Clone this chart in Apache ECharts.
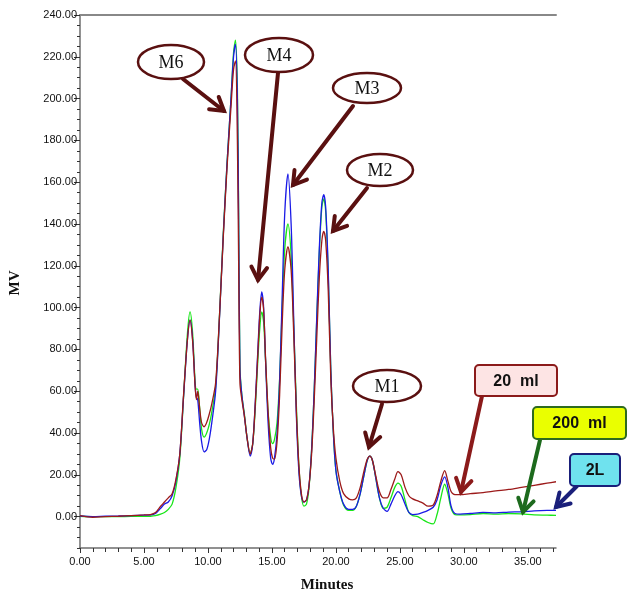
<!DOCTYPE html>
<html>
<head>
<meta charset="utf-8">
<script src="https://cdn.jsdelivr.net/npm/echarts@6/dist/echarts.min.js"></script>
<style>
html,body{margin:0;padding:0;background:#fff;}
#c{width:627px;height:593px;}
</style>
</head>
<body>
<div id="c"></div>
<script>
// ---- data (minutes, MV) ----
const times = [0,1,2,3,4,5,5.5,5.9,6.3,6.6,6.9,7.2,7.5,7.8,8.1,8.4,8.6,8.8,9.0,9.1,9.2,9.35,9.5,9.7,9.9,10.1,10.3,10.6,10.9,11.2,11.5,11.8,12.0,12.15,12.3,12.4,12.5,12.65,12.85,13.05,13.3,13.5,13.7,13.9,14.05,14.2,14.35,14.5,14.7,14.9,15.05,15.2,15.4,15.6,15.8,16.0,16.25,16.5,16.7,16.9,17.1,17.3,17.5,17.7,17.9,18.1,18.3,18.5,18.7,18.9,19.05,19.2,19.4,19.6,19.8,20.0,20.3,20.6,21.0,21.3,21.6,21.9,22.2,22.45,22.65,22.85,23.1,23.4,23.7,24.0,24.3,24.6,24.85,25.1,25.4,25.7,26.0,26.4,26.8,27.2,27.6,27.9,28.2,28.5,28.75,29.0,29.3,29.7,30.5,31.5,32.5,33.5,34.5,35.5,36.5,37.2];
const mv2L = [0.3,0,0.2,0.3,0.5,0.7,0.8,1.5,4,6,7,10,17,30,58,85,94,85,62,57,56,45,36,31,32,37,45,60,95,135,170,200,220,226,200,140,70,58,48,38,29,35,55,80,98,107.5,100,75,45,28,25,28,40,65,105,145,164,140,95,50,22,10,7,8,15,32,60,95,128,150,154,148,118,70,40,22,12,6,3.5,3.5,5,11,20,27,29,27,19,9,4,2.5,6,10,12,10.5,6,2,1,1.2,2,3,4.5,8,15,19,14,5,1.5,1.2,1.5,2,1.8,2.2,2.3,2.8,3,3];
const mv200ml = [0.2,0,0,0,0.1,0.1,0.2,0.5,1.2,2,3.5,6,14,28,58,88,98,88,64,61,61,52,42,38,40,44,50,62,96,136,170,200,222,228,205,145,72,58,49,38,30,35,52,75,90,98,93,75,50,38,35,37,45,66,100,128,140,125,92,55,25,10,5,6,14,32,60,94,126,148,152,146,116,70,40,22,12,5.5,3,3,5,11,20,27,29,27,19,9,4,4.5,9,14,16,14.5,8,2,0.5,0,-1.5,-2.8,-3.5,1,9,15.5,11,4,1,0.8,1,1.5,1.2,1.5,1.3,0.8,0.7,0.6];
const mv20ml = [0.5,-0.3,0,0.2,0.5,0.8,1,2,5,7,9,11,18,30,59,85,94,84,62,56,60,52,45,43,45,49,54,64,96,134,168,196,214,218,180,120,64,56,48,38,30,35,54,78,96,105,99,76,50,33,28,27.5,36,58,92,118,129,118,88,52,25,11,7,8,15,30,55,85,114,132,136.5,132,108,66,42,28,17,11,8.5,8,9,14,22,27.5,29,27,20,12,9,9,13,18,21.5,20,14,10,8.5,7.5,6.5,5,5.5,10,17,22,17,12,10.5,10.5,11,11.5,12.3,13,14,15,16,16.7];
const xTickValues = [0,5,10,15,20,25,30,35];
const yTickValues = [0,20,40,60,80,100,120,140,160,180,200,220,240];

function pairs(vals){ return times.map((t,i)=>[t, vals[i]]); }
const xMinor = []; for (let v=1; v<=37; v++) if (v%5) xMinor.push(v);
const yMinor = []; for (let v=-15; v<=240; v+=5) if (v%20) yMinor.push(v);

const chart = echarts.init(document.getElementById('c'), null, {renderer:'canvas'});
const axisGray = '#6e6e6e';
const lblFont = {fontFamily:'Liberation Sans', fontSize:11, color:'#111'};

// annotation helpers (pixel layout)
function arrow(x1,y1,x2,y2,color){
  const a = Math.atan2(y2-y1, x2-x1), L = 15, s = 0.55;
  return [
    {type:'line', shape:{x1,y1,x2,y2}, style:{stroke:color, lineWidth:4, lineCap:'round'}, z:20},
    {type:'polyline', shape:{points:[[x2-L*Math.cos(a-s), y2-L*Math.sin(a-s)],[x2,y2],[x2-L*Math.cos(a+s), y2-L*Math.sin(a+s)]]},
     style:{stroke:color, lineWidth:4, fill:null, lineJoin:'miter', lineCap:'round'}, z:20}
  ];
}
function bubble(cx,cy,rx,ry,text){
  return [
    {type:'ellipse', shape:{cx,cy,rx,ry}, style:{fill:'#fff', stroke:'#5a1010', lineWidth:2.5}, z:21},
    {type:'text', x:cx, y:cy+1, style:{text, fill:'#111', font:'18px "Liberation Serif"', align:'center', verticalAlign:'middle'}, z:22}
  ];
}
function box(x,y,w,h,fill,stroke,text){
  return [
    {type:'rect', shape:{x,y,width:w,height:h,r:4}, style:{fill, stroke, lineWidth:2}, z:21},
    {type:'text', x:x+w/2, y:y+h/2+1, style:{text, fill:'#111', font:'bold 16px "Liberation Sans"', align:'center', verticalAlign:'middle'}, z:22}
  ];
}
const maroon = '#5a1010';
const graphics = [].concat(
  arrow(183,79,224,111,maroon), bubble(171,62,33,17,'M6'),
  arrow(278,73,258,280,maroon), bubble(279,55,34,17,'M4'),
  arrow(353,106,293,185,maroon), bubble(367,88,34,15,'M3'),
  arrow(367,188,333,231,maroon), bubble(380,170,33,16,'M2'),
  arrow(382,404,369,447,maroon), bubble(387,386,34,16,'M1'),
  arrow(482,396,461,492,'#8b1a1a'), box(475,365,82,31,'#fde4e4','#8b1a1a','20  ml'),
  arrow(540,440,523,512,'#1d6a1d'), box(533,407,93,32,'#eaff00','#2e6b1e','200  ml'),
  arrow(577,486,556,507,'#1a1f7a'), box(570,454,50,32,'#6fe2ee','#1a1f7a','2L'),
  [
    {type:'text', x:15, y:283, rotation:Math.PI/2, style:{text:'MV', fill:'#111', font:'bold 15px "Liberation Serif"', align:'center', verticalAlign:'middle'}},
    {type:'text', x:327, y:585, style:{text:'Minutes', fill:'#111', font:'bold 15px "Liberation Serif"', align:'center', verticalAlign:'middle'}}
  ]
);

chart.setOption({
  animation:false,
  backgroundColor:'#fff',
  grid:{left:80, right:71, top:15, bottom:45},
  xAxis:[
    {type:'value', min:0, max:37.2, position:'bottom',
     axisLine:{show:true, onZero:false, lineStyle:{color:axisGray, width:1.5}},
     axisTick:{show:true, customValues:xTickValues, length:5, lineStyle:{color:'#333'}},
     axisLabel:Object.assign({customValues:xTickValues, formatter:v=>v.toFixed(2), margin:8}, lblFont),
     splitLine:{show:false}},
    {type:'value', min:0, max:37.2, position:'bottom',
     axisLine:{show:false, onZero:false}, axisTick:{show:true, customValues:xMinor, length:4, lineStyle:{color:'#333'}},
     axisLabel:{show:false}, splitLine:{show:false}},
    {type:'value', min:0, max:37.2, position:'top',
     axisLine:{show:true, onZero:false, lineStyle:{color:'#888', width:2}}, axisTick:{show:false}, axisLabel:{show:false}, splitLine:{show:false}}
  ],
  yAxis:[
    {type:'value', min:-15, max:240, position:'left',
     axisLine:{show:true, onZero:false, lineStyle:{color:axisGray, width:1.5}},
     axisTick:{show:true, customValues:yTickValues, length:6, lineStyle:{color:'#333'}},
     axisLabel:Object.assign({customValues:yTickValues, formatter:v=>v.toFixed(2), margin:3}, lblFont),
     splitLine:{show:false}},
    {type:'value', min:-15, max:240, position:'left',
     axisLine:{show:false, onZero:false}, axisTick:{show:true, customValues:yMinor, length:3, lineStyle:{color:'#333'}},
     axisLabel:{show:false}, splitLine:{show:false}}
  ],
  series:[
    {name:'200 ml', type:'line', data:pairs(mv200ml), showSymbol:false, smooth:0.3, lineStyle:{color:'#19e619', width:1.3}, itemStyle:{color:'#19e619'}, z:3},
    {name:'2L', type:'line', data:pairs(mv2L), showSymbol:false, smooth:0.3, lineStyle:{color:'#1a1ae6', width:1.3}, itemStyle:{color:'#1a1ae6'}, z:4},
    {name:'20 ml', type:'line', data:pairs(mv20ml), showSymbol:false, smooth:0.3, lineStyle:{color:'#9c1a1a', width:1.3}, itemStyle:{color:'#9c1a1a'}, z:5}
  ],
  graphic:graphics
});
</script>
</body>
</html>
